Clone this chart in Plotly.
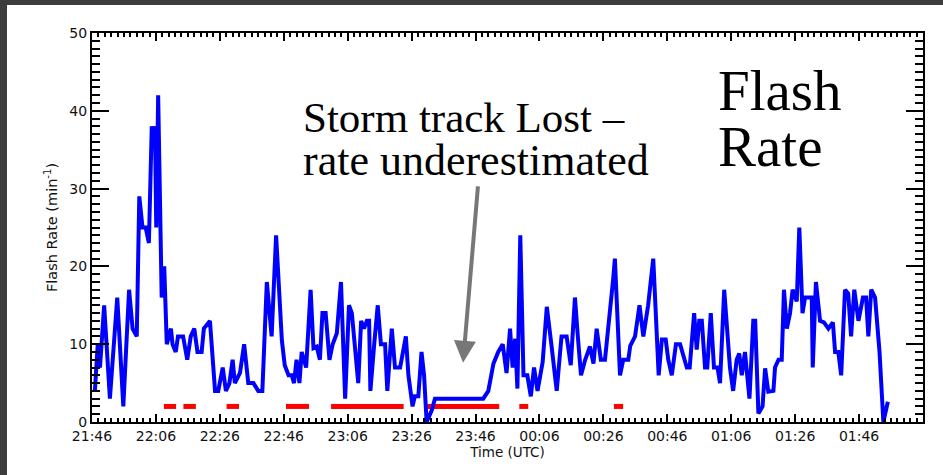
import plotly.graph_objects as go
import pandas as pd

# ---- data ----
minutes_since_2146 = [
    0.9, 1.8, 2.5, 3.8, 5.6, 7.9, 9.8, 11.6, 12.7, 14.0, 14.8, 15.8, 16.8, 17.8,
    18.7, 19.3, 19.7, 20.1, 20.7, 21.8, 22.6, 23.4, 24.7, 25.2, 26.2, 26.9, 28.5,
    29.8, 30.9, 32.0, 33.0, 34.3, 35.0, 36.9, 38.5, 39.5, 40.9, 41.9, 43.0, 44.0,
    44.7, 46.3, 47.6, 48.9, 50.5, 52.0, 53.3, 54.7, 56.2, 57.6, 59.4, 60.3, 61.5,
    62.5, 63.2, 64.0, 64.9, 65.6, 67.0, 68.4, 69.3, 70.3, 71.3, 72.1, 73.1, 74.3,
    75.3, 76.6, 77.9, 79.2, 80.4, 81.3, 83.3, 84.2, 85.1, 86.0, 86.7, 87.1, 88.3,
    89.4, 90.4, 91.7, 92.4, 93.8, 94.8, 96.4, 98.2, 99.0, 100.3, 101.0, 102.1,
    103.1, 103.9, 104.7, 106.3, 107.3, 122.4, 124.0, 125.6, 127.1, 128.5, 129.7,
    130.8, 131.6, 132.4, 133.1, 134.0, 135.0, 136.2, 137.3, 138.3, 139.4, 141.0,
    142.3, 143.8, 145.4, 146.9, 148.5, 149.8, 151.1, 152.0, 153.0, 154.3, 155.8,
    156.9, 157.9, 159.2, 160.5, 163.1, 163.6, 165.2, 166.2, 167.8, 168.4, 169.9,
    171.3, 172.5, 174.0, 175.6, 177.3, 178.3, 179.5, 180.3, 181.4, 182.7, 184.0,
    186.1, 187.0, 188.4, 189.2, 190.0, 190.8, 191.8, 192.5, 193.6, 194.6, 195.7,
    196.5, 197.8, 198.9, 199.6, 200.6, 201.7, 202.5, 203.3, 204.3, 205.7, 206.9,
    207.5, 208.5, 209.8, 210.6, 211.6, 213.2, 213.7, 214.8, 215.8, 216.5, 217.4,
    218.4, 219.2, 220.5, 221.3, 222.3, 223.1, 224.1, 225.2, 225.5, 226.5, 227.8,
    229.0, 230.4, 231.8, 232.5, 233.5, 234.4, 235.6, 236.6, 237.5, 238.5, 239.8,
    241.2, 242.2, 242.9, 243.8, 245.0, 246.4, 247.6, 249.0,
]
flash_rate = [
    4, 10, 7, 15, 3, 16, 2, 17, 12, 11, 29, 25, 25, 23,
    38, 37, 38, 25, 42, 16, 20, 10, 12, 10, 9, 11, 11,
    8, 11, 12, 9, 9, 12, 13, 4, 4, 7, 4, 5, 8,
    5, 6.3, 10, 5, 5, 4, 4, 18, 11, 24, 10.5, 7.3, 6,
    6, 5, 8, 5, 9, 7, 17, 9.5, 9.7, 8, 14, 14, 8,
    10, 11.4, 18, 3, 15, 14, 5, 13, 12, 13, 13, 4, 10,
    15, 10, 10, 4, 12, 7, 7, 11, 6, 2, 3.3, 3.3,
    9, 6, 0, 1.5, 3, 3, 4, 7.5, 9, 10, 6.3,
    12, 7, 10.7, 4.3, 24, 6, 6, 3.3, 7, 4, 7.7,
    14.8, 9.7, 4, 11, 11, 7.3, 16, 11, 6, 8, 9.7,
    7.5, 12, 8, 8, 18.5, 21, 6, 8, 8, 9.8, 11,
    15, 11, 15, 21, 6, 10.6, 10.6, 8, 6, 10, 10,
    7, 7, 14, 9.3, 13, 13, 7, 7, 14, 7, 7,
    5, 17, 10, 7, 4, 8, 8.8, 6, 9, 3, 13,
    13, 1.1, 2, 6.9, 3.9, 4, 7, 8, 8, 17, 12,
    14, 17, 15.5, 25, 14, 16, 16, 16, 7, 18, 13,
    12.8, 12, 12.8, 9, 9, 6, 17, 16.5, 11, 17, 13,
    16, 16, 11, 17, 16, 9, 0, 2.6,
]

# red bars: periods marked along the bottom (minutes since 21:46)
red_start = [22.5, 28.6, 42.1, 60.7, 74.8, 104.5, 133.7, 163.3]
red_end = [26.3, 32.5, 46.0, 67.9, 97.5, 127.4, 136.5, 166.2]
red_level = 2

base = pd.Timestamp("2000-01-01 21:46")
x_end = base + pd.Timedelta(minutes=260)


def to_time(m):
    return base + pd.Timedelta(minutes=m)


times = [to_time(m) for m in minutes_since_2146]

red_x, red_y = [], []
for s, e in zip(red_start, red_end):
    red_x += [to_time(s), to_time(e), None]
    red_y += [red_level, red_level, None]

fig = go.Figure()
fig.add_trace(go.Scatter(x=red_x, y=red_y, mode="lines",
                         line=dict(color="#ff0000", width=5), hoverinfo="skip",
                         showlegend=False))
fig.add_trace(go.Scatter(x=times, y=flash_rate, mode="lines",
                         line=dict(color="#0000ff", width=4), showlegend=False))

tick_font = dict(family="DejaVu Sans", size=14, color="#111111")
title_font = dict(family="DejaVu Sans", size=13.5, color="#111111")
ytitle_font = dict(family="DejaVu Sans", size=14.5, color="#111111")

fig.update_xaxes(
    type="date", range=[base, x_end], tick0=base, dtick=20 * 60 * 1000,
    tickformat="%H:%M", ticks="inside", ticklen=8, tickwidth=1.5,
    tickcolor="black", showline=True, linecolor="black", linewidth=2,
    mirror="ticks", showgrid=False, zeroline=False, tickfont=tick_font,
    automargin=False,
    minor=dict(dtick=2 * 60 * 1000, ticks="inside", ticklen=4, tickwidth=1.5,
               tickcolor="black", showgrid=False),
    title=dict(text="Time (UTC)", font=title_font, standoff=4),
)
fig.update_yaxes(
    range=[0, 50], dtick=10, ticks="inside", ticklen=17, tickwidth=1.5,
    tickcolor="black", showline=True, linecolor="black", linewidth=2,
    mirror="ticks", showgrid=False, zeroline=False, tickfont=tick_font,
    automargin=False,
    minor=dict(dtick=1, ticks="inside", ticklen=8, tickwidth=1.5,
               tickcolor="black", showgrid=False),
    title=dict(text="Flash Rate (min<sup>-1</sup>)", font=ytitle_font, standoff=8),
)

serif = "Liberation Serif"
annots = [
    dict(text="Storm track Lost \u2013", x=(301 - 92) / 831, y=(422 - 117) / 389, size=43),
    dict(text="rate underestimated", x=(301 - 92) / 831, y=(422 - 160) / 389, size=44),
    dict(text="Flash", x=(716 - 92) / 831, y=(422 - 90) / 389, size=57),
    dict(text="Rate", x=(716 - 92) / 831, y=(422 - 146) / 389, size=57),
]
for a in annots:
    fig.add_annotation(text=a["text"], x=a["x"], y=a["y"], xref="paper", yref="paper",
                       xanchor="left", yanchor="middle", showarrow=False,
                       font=dict(family=serif, size=a["size"], color="black"))

# grey arrow pointing at the lost-track segment
fig.add_annotation(x=to_time(116.1), y=7.6, xref="x", yref="y", text="",
                   showarrow=True, ax=15, ay=-178, arrowcolor="#777777",
                   arrowwidth=4, arrowhead=2, arrowsize=1.1, standoff=0)

# dark frame around the slide panel (top and left edges)
fig.add_shape(type="rect", xref="paper", yref="paper",
              x0=-0.2, x1=1.1, y0=(422 - 5) / 389, y1=1.2,
              fillcolor="#3d3d3d", line=dict(width=0), layer="above")
fig.add_shape(type="rect", xref="paper", yref="paper",
              x0=-0.2, x1=(7 - 92) / 831, y0=-0.3, y1=1.2,
              fillcolor="#3d3d3d", line=dict(width=0), layer="above")

fig.update_layout(
    width=943, height=475,
    margin=dict(l=92, r=20, t=33, b=53),
    paper_bgcolor="white", plot_bgcolor="white",
)

fig.write_html(
    "out.html",
    config={"displayModeBar": False},
    post_script="document.body.style.margin='0';document.body.style.overflow='hidden';",
)
